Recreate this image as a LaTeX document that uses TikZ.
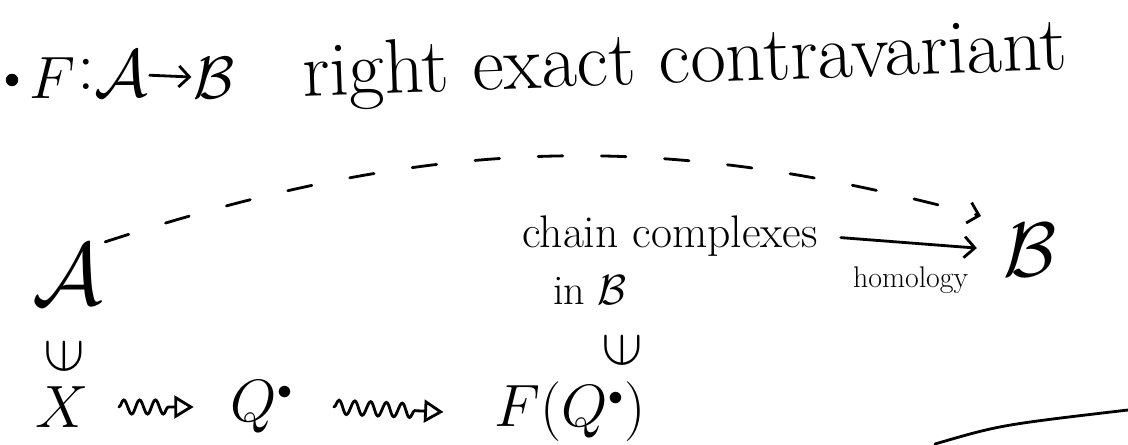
\RequirePackage{fix-cm}
\documentclass[tikz,border=0pt]{standalone}
\usepackage{amsmath}
\usepackage{graphicx}
\usetikzlibrary{arrows.meta,positioning,decorations.pathmorphing}

\begin{document}
\begin{tikzpicture}[
    x=0.02cm, y=-0.02cm,
    every node/.style={inner sep=1pt},
    hand/.style={line width=1.6pt, line cap=round},
    mathbig/.style={font=\fontsize{34}{38}\selectfont},
    words/.style={font=\fontsize{44}{48}\selectfont},
    smalltext/.style={font=\fontsize{17}{20}\selectfont},
    member/.style={font=\fontsize{30}{34}\selectfont},
    squig/.style={hand, -{Triangle[open,length=11pt,width=13pt,line width=1.6pt]},
        decorate, decoration={snake, amplitude=4pt, segment length=9pt, post length=12pt}},
    barb/.style={-{Straight Barb[length=6pt,width=12pt,line width=1.6pt]}}
]
\useasboundingbox (0,0) rectangle (1128,445);

% the functor
\node[circle, fill, inner sep=2.5pt] (dot) at (12,80) {};
\node[mathbig] (F) at (52,78) {$F$};
\node[font=\fontsize{40}{44}\selectfont] (colon) at (86,74) {$:$};
\node[font=\fontsize{38}{42}\selectfont] (A1) at (121,74) {$\mathcal{A}$};
\node[mathbig] (B1) at (214,78) {$\mathcal{B}$};
\draw[hand, barb] (A1) -- (B1);
\node[words, rotate=2] (props) at (685,64) {right exact contravariant};

% the diagram
\node[font=\fontsize{50}{54}\selectfont] (A2) at (68,274) {$\mathcal{A}$};
\node[member] (in1) at (64,356) {\scalebox{1.15}{\rotatebox{90}{$\in$}}};
\node[mathbig] (X) at (62,407) {$X$};
\node[mathbig] (Q) at (262,407) {$Q^{\scriptscriptstyle\bullet}$};
\node[mathbig] (FQ) at (570,412) {$F(Q^{\scriptscriptstyle\bullet})$};
\node[member] (in2) at (622,350) {\scalebox{1.15}{\rotatebox{90}{$\in$}}};
\node[font=\fontsize{26}{30}\selectfont] (chain) at (670,236) {chain complexes};
\node[member, font=\fontsize{24}{28}\selectfont] (inB) at (590,290) {in $\mathcal{B}$};
\node[font=\fontsize{44}{48}\selectfont] (B2) at (1030,250) {$\mathcal{B}$};

\draw[hand, barb, shorten <=12pt, shorten >=14pt] (chain.east) --
    node[below=12pt, smalltext] (hom) {homology} (B2.west);
\draw[hand, barb, dashed, dash pattern=on 14pt off 22pt, shorten >=12pt]
    (A2.north east) to[out=18,in=165] (B2.north west);
\draw[squig] ([xshift=16pt]X.east) -- ([xshift=-20pt]Q.west);
\draw[squig] ([xshift=22pt]Q.east) -- ([xshift=-28pt]FQ.west);

% stroke at the bottom edge
\coordinate (s1) at (935,444);
\coordinate (s2) at (1128,410);
\draw[hand] (s1) .. controls (1000,425) .. (s2);
\end{tikzpicture}
\end{document}
